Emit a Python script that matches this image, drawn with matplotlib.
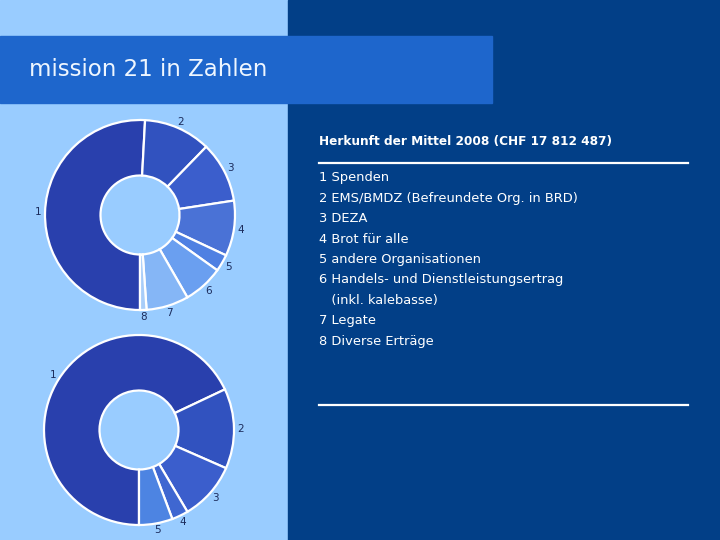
import matplotlib
matplotlib.use("Agg")
import matplotlib.pyplot as plt
from matplotlib.patches import Rectangle
import numpy as np

# ---- data ----
top_labels = ["1", "2", "3", "4", "5", "6", "7", "8"]
top_values = [50.8, 11.4, 10.3, 9.4, 2.9, 6.8, 7.2, 1.1]
top_colors = ["#2940ad", "#3152bf", "#3b5ecc", "#4a72d6", "#4f80e2",
              "#6a9ff0", "#85b6f6", "#a8cdf9"]

bottom_labels = ["1", "2", "3", "4", "5"]
bottom_values = [67.9, 13.6, 9.9, 2.8, 5.7]
bottom_colors = ["#2940ad", "#3152bf", "#3b5ecc", "#3f67d1", "#4d84e2"]

title = "mission 21 in Zahlen"
legend_title = "Herkunft der Mittel 2008 (CHF 17 812 487)"
legend_items = ["1 Spenden",
                "2 EMS/BMDZ (Befreundete Org. in BRD)",
                "3 DEZA",
                "4 Brot für alle",
                "5 andere Organisationen",
                "6 Handels- und Dienstleistungsertrag",
                "   (inkl. kalebasse)",
                "7 Legate",
                "8 Diverse Erträge"]

W, H = 720, 540
fig = plt.figure(figsize=(7.2, 5.4), dpi=100)

bg = fig.add_axes([0, 0, 1, 1])
bg.set_xlim(0, W)
bg.set_ylim(H, 0)
bg.axis("off")
bg.add_patch(Rectangle((0, 0), 288, H, color="#99ccff", zorder=0))
bg.add_patch(Rectangle((288, 0), W - 288, H, color="#023f87", zorder=0))
bg.add_patch(Rectangle((0, 36), 492, 67, color="#1e66cc", zorder=1))
bg.text(29, 70, title, color="#eef6ff", fontsize=16.5, va="center", ha="left",
        family="DejaVu Sans", zorder=2)

bg.text(319, 141, legend_title, color="white", fontsize=8.7, fontweight="bold",
        va="center", ha="left", family="DejaVu Sans")
bg.plot([319, 688], [163, 163], color="white", lw=1.6)
bg.plot([319, 688], [405, 405], color="white", lw=1.6)
for i, item in enumerate(legend_items):
    bg.text(319, 178 + i * 20.4, item, color="white", fontsize=9.4,
            va="center", ha="left", family="DejaVu Sans")


def donut(cx, cy, values, labels, colors):
    size = 240
    ax = fig.add_axes([(cx - size / 2) / W, 1 - (cy + size / 2) / H,
                       size / W, size / H])
    wedges, _ = ax.pie(values, colors=colors, startangle=-90, counterclock=False,
                       radius=0.95,
                       wedgeprops=dict(width=0.555, edgecolor="white", linewidth=1.6))
    for w, lab in zip(wedges, labels):
        mid = np.deg2rad((w.theta1 + w.theta2) / 2)
        ax.text(1.02 * np.cos(mid), 1.02 * np.sin(mid), lab, ha="center",
                va="center", fontsize=7.5, color="#1c2c5c")
    ax.set_xlim(-1.2, 1.2)
    ax.set_ylim(-1.2, 1.2)
    ax.set_aspect("equal")
    ax.axis("off")
    ax.patch.set_alpha(0)


donut(140, 215, top_values, top_labels, top_colors)
donut(139, 430, bottom_values, bottom_labels, bottom_colors)

fig.savefig("out.png", dpi=100)
